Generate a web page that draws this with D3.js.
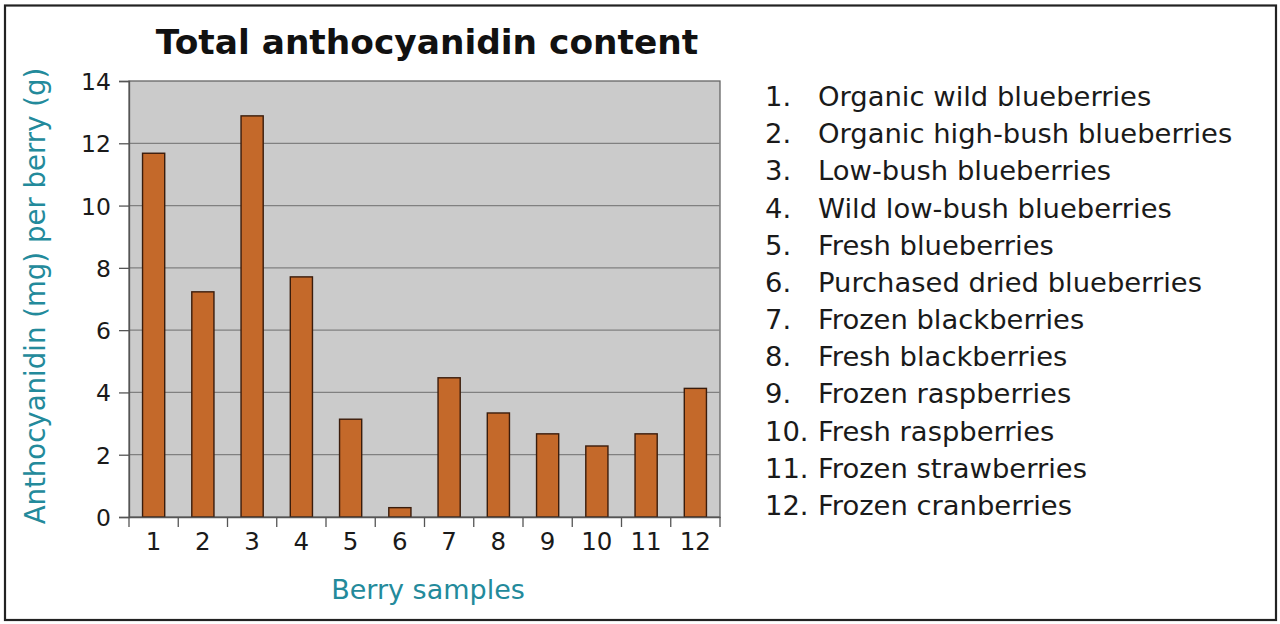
<!DOCTYPE html>
<html>
<head>
<meta charset="utf-8">
<script src="https://cdn.jsdelivr.net/npm/d3@7"></script>
<style>
  html, body { margin: 0; padding: 0; background: #fff; }
  svg { display: block; }
  text { font-family: Verdana, "DejaVu Sans", sans-serif; }
</style>
</head>
<body>
<svg id="chart" width="1280" height="624"></svg>
<script>
const categories = ["1","2","3","4","5","6","7","8","9","10","11","12"];
const values = [11.68, 7.23, 12.88, 7.71, 3.14, 0.3, 4.47, 3.34, 2.67, 2.28, 2.67, 4.13];
const yTicks = [0, 2, 4, 6, 8, 10, 12, 14];
const legendNames = [
  "Organic wild blueberries",
  "Organic high-bush blueberries",
  "Low-bush blueberries",
  "Wild low-bush blueberries",
  "Fresh blueberries",
  "Purchased dried blueberries",
  "Frozen blackberries",
  "Fresh blackberries",
  "Frozen raspberries",
  "Fresh raspberries",
  "Frozen strawberries",
  "Frozen cranberries"
];
const titleText = "Total anthocyanidin content";
const yTitle = "Anthocyanidin (mg) per berry (g)";
const xTitle = "Berry samples";

const FONT = "Verdana, 'DejaVu Sans', sans-serif";
const TEAL = "#238a9b";
const INK = "#1a1a1a";
const svg = d3.select("#chart");

// outer frame
svg.append("rect")
  .attr("x", 5).attr("y", 5.5).attr("width", 1271).attr("height", 614.5)
  .attr("fill", "#fff").attr("stroke", "#222").attr("stroke-width", 2.2);

const plot = {left: 129, top: 81, right: 720, bottom: 517};

const x = d3.scaleBand().domain(categories).range([plot.left, plot.right]).paddingInner(0.55).paddingOuter(0.275);
const xEdge = d3.scaleBand().domain(categories).range([plot.left, plot.right]);
const y = d3.scaleLinear().domain([0, 14]).range([plot.bottom, plot.top]);

// background
svg.append("rect")
  .attr("x", plot.left).attr("y", plot.top)
  .attr("width", plot.right - plot.left).attr("height", plot.bottom - plot.top)
  .attr("fill", "#cbcbcb").attr("stroke", "#666").attr("stroke-width", 1.3);

// gridlines
svg.append("g").selectAll("line").data(yTicks.filter(d => d > 0 && d < 14)).join("line")
  .attr("x1", plot.left).attr("x2", plot.right)
  .attr("y1", d => y(d)).attr("y2", d => y(d))
  .attr("stroke", "#808080").attr("stroke-width", 1.3);

// bars
svg.append("g").selectAll("rect").data(values).join("rect")
  .attr("x", (d, i) => x(categories[i]))
  .attr("width", x.bandwidth())
  .attr("y", d => y(d))
  .attr("height", d => y(0) - y(d))
  .attr("fill", "#c4692a")
  .attr("stroke", "#3a1c0c").attr("stroke-width", 1.4);

// y axis
const yAxis = svg.append("g").attr("transform", `translate(${plot.left},0)`)
  .call(d3.axisLeft(y).tickValues(yTicks).tickSize(10).tickPadding(8));
yAxis.select(".domain").attr("stroke", "#555").attr("stroke-width", 1.3);
yAxis.selectAll(".tick line").attr("stroke", "#555").attr("stroke-width", 1.3);
yAxis.selectAll("text").attr("font-size", 23.5).attr("fill", INK)
  .attr("font-family", FONT).attr("dy", "0.36em");

// x axis: labels centred in bands, ticks on band edges
const xAxis = svg.append("g").attr("transform", `translate(0,${plot.bottom})`)
  .call(d3.axisBottom(xEdge).tickSize(0).tickPadding(0));
xAxis.select(".domain").attr("stroke", "#555").attr("stroke-width", 1.3);
xAxis.selectAll("text").attr("font-size", 24.5).attr("fill", INK)
  .attr("font-family", FONT).attr("y", 33).attr("dy", 0);
const edges = categories.map(c => xEdge(c)).concat([plot.right]);
svg.append("g").selectAll("line").data(edges).join("line")
  .attr("x1", d => d).attr("x2", d => d)
  .attr("y1", plot.bottom).attr("y2", plot.bottom + 10)
  .attr("stroke", "#555").attr("stroke-width", 1.3);

// title
svg.append("text")
  .attr("x", 427).attr("y", 54)
  .attr("text-anchor", "middle")
  .attr("font-size", 34.4).attr("font-weight", "bold").attr("fill", "#111")
  .text(titleText);

// axis titles
svg.append("text")
  .attr("transform", `translate(45,296) rotate(-90)`)
  .attr("text-anchor", "middle")
  .attr("font-size", 27.6).attr("fill", TEAL)
  .text(yTitle);

svg.append("text")
  .attr("x", 428).attr("y", 599)
  .attr("text-anchor", "middle")
  .attr("font-size", 27).attr("fill", TEAL)
  .text(xTitle);

// legend list
const leg = svg.append("g");
const rowY = d3.scaleLinear().domain([0, 11]).range([106, 515]);
leg.selectAll("text.num").data(legendNames).join("text")
  .attr("class", "num")
  .attr("x", 765).attr("y", (d, i) => rowY(i))
  .attr("font-size", 27.4).attr("fill", INK)
  .text((d, i) => categories[i] + ".");
leg.selectAll("text.name").data(legendNames).join("text")
  .attr("class", "name")
  .attr("x", 818)
  .attr("y", (d, i) => rowY(i))
  .attr("font-size", 27.4).attr("fill", INK)
  .text(d => d);
</script>
</body>
</html>
